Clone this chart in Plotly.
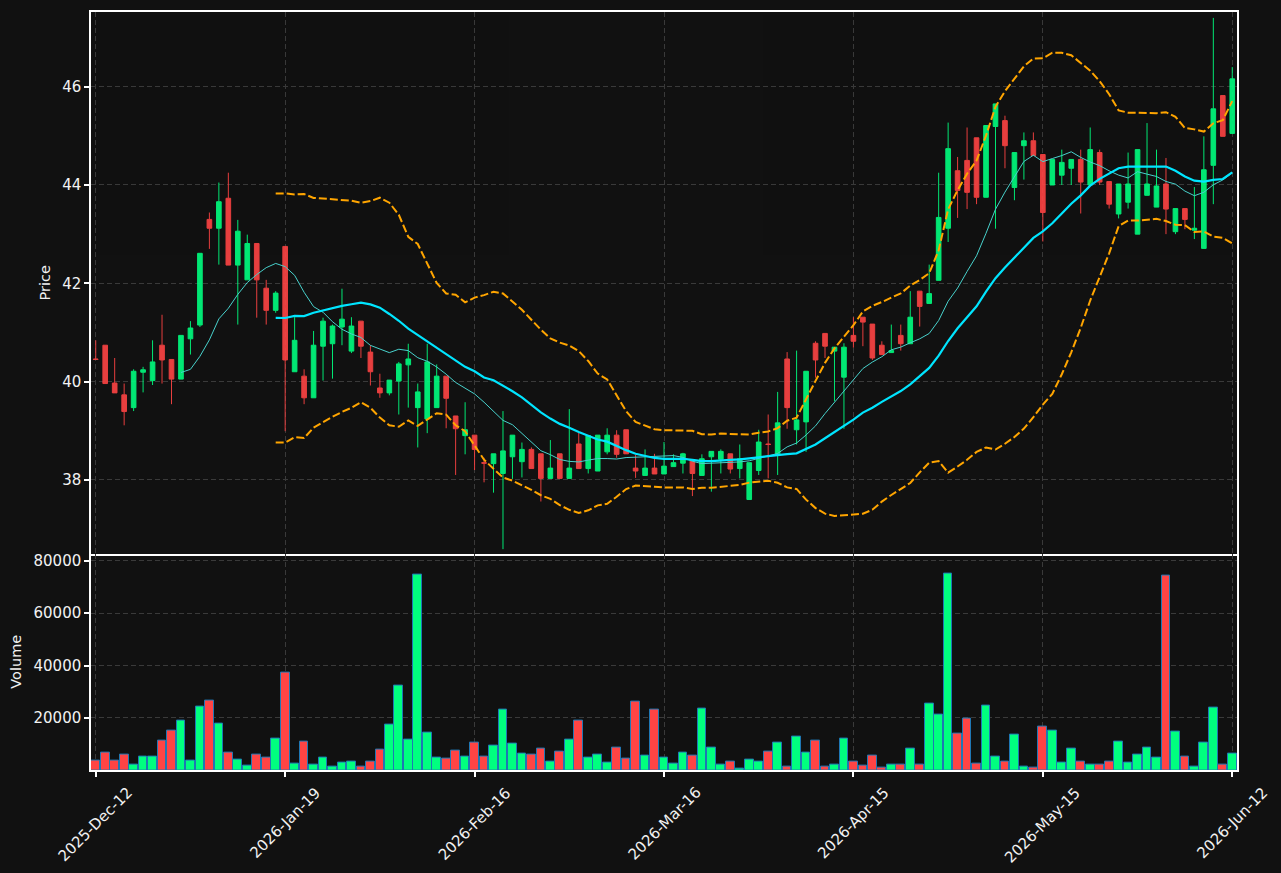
import plotly.graph_objects as go
import pandas as pd

tick_labels = ["2025-Dec-12", "2026-Jan-19", "2026-Feb-16", "2026-Mar-16",
               "2026-Apr-15", "2026-May-15", "2026-Jun-12"]
tick_index = [0, 20, 40, 60, 80, 100, 120]

opens = [40.46, 40.74, 39.97, 39.73, 39.47, 40.19, 40.02, 40.74, 40.45, 40.05,
         40.87, 41.15, 43.30, 43.12, 43.73, 42.37, 42.07, 42.81, 41.90, 41.45,
         42.75, 40.20, 40.11, 39.67, 40.72, 40.77, 41.11, 40.62, 41.23, 40.60,
         39.87, 39.77, 40.01, 40.34, 39.47, 39.24, 39.47, 40.11, 39.30, 38.90,
         38.91, 38.35, 38.33, 38.13, 38.47, 38.37, 38.62, 38.53, 38.03, 38.53,
         38.03, 38.73, 38.23, 38.18, 38.57, 38.91, 39.02, 38.24, 38.09, 38.24,
         38.12, 38.27, 38.34, 38.39, 38.09, 38.47, 38.42, 38.53, 38.23, 37.60,
         38.19, 38.73, 38.51, 40.46, 39.02, 39.18, 40.78, 40.98, 40.62, 40.09,
         40.94, 41.31, 41.17, 40.74, 40.59, 40.94, 40.77, 41.84, 41.59, 42.06,
         43.12, 44.29, 44.50, 44.96, 43.75, 45.19, 45.31, 43.95, 44.80, 44.90,
         44.62, 44.00, 44.20, 44.34, 44.52, 44.00, 44.66, 44.07, 43.41, 43.65,
         43.00, 43.79, 43.55, 44.02, 43.05, 43.52, 43.08, 42.71, 44.40, 45.82,
         45.05]
highs = [40.84, 40.74, 40.48, 39.96, 40.25, 40.30, 40.84, 41.36, 40.45, 40.94,
         41.23, 42.61, 43.44, 44.05, 44.25, 43.29, 42.99, 42.81, 42.07, 41.84,
         42.75, 41.31, 40.25, 41.03, 41.30, 41.16, 41.89, 41.31, 41.23, 40.74,
         40.16, 40.03, 40.40, 40.77, 39.96, 40.77, 40.35, 40.11, 39.30, 39.58,
         38.91, 38.45, 38.53, 39.40, 38.91, 38.76, 38.66, 38.53, 38.81, 38.53,
         39.44, 38.96, 38.90, 38.91, 39.05, 39.01, 39.02, 38.51, 38.62, 38.53,
         38.77, 38.52, 38.55, 38.39, 38.52, 38.58, 38.62, 38.53, 38.72, 38.35,
         39.02, 39.33, 39.79, 40.60, 40.63, 40.21, 40.82, 40.98, 40.70, 40.78,
         41.31, 41.31, 41.17, 40.82, 41.16, 41.16, 41.84, 41.84, 42.38, 44.25,
         45.27, 44.57, 45.17, 44.96, 45.21, 45.65, 45.41, 44.66, 45.07, 45.07,
         44.62, 44.52, 44.72, 44.52, 44.72, 45.17, 44.72, 44.07, 44.02, 44.66,
         44.72, 45.26, 44.72, 44.55, 43.52, 43.52, 43.96, 44.99, 47.40, 45.82,
         46.40]
lows = [40.44, 39.96, 39.77, 39.11, 39.40, 39.78, 39.93, 39.96, 39.54, 40.05,
        40.55, 41.11, 42.70, 42.38, 42.37, 41.16, 42.07, 41.30, 41.16, 41.40,
        38.99, 40.20, 39.54, 39.67, 40.02, 40.06, 40.74, 40.58, 40.48, 39.92,
        39.67, 39.72, 39.33, 39.47, 38.66, 38.95, 39.47, 39.05, 38.10, 38.52,
        38.20, 37.95, 37.74, 36.59, 38.02, 38.05, 38.23, 37.56, 38.03, 38.03,
        38.03, 38.23, 38.13, 38.18, 38.52, 38.45, 38.53, 38.04, 38.09, 38.12,
        38.12, 38.27, 38.13, 37.67, 38.09, 37.76, 38.13, 38.13, 38.03, 37.60,
        38.10, 38.03, 38.10, 39.04, 38.72, 38.57, 40.08, 40.48, 39.60, 39.04,
        40.69, 40.72, 40.44, 40.54, 40.59, 40.63, 40.77, 41.12, 41.59, 42.06,
        42.84, 43.33, 43.51, 43.61, 43.75, 43.11, 44.34, 43.69, 44.11, 44.60,
        42.85, 44.00, 44.00, 44.00, 43.42, 44.00, 44.00, 43.52, 43.32, 43.52,
        43.00, 43.79, 43.55, 43.00, 43.00, 43.10, 42.90, 42.70, 43.61, 44.99,
        45.05]
closes = [40.45, 39.96, 39.77, 39.39, 40.21, 40.24, 40.40, 40.44, 40.05, 40.94,
          41.09, 42.61, 43.12, 43.66, 42.37, 43.06, 42.81, 42.07, 41.45, 41.80,
          40.44, 40.84, 39.67, 40.74, 41.23, 41.13, 41.27, 41.13, 40.72, 40.20,
          39.77, 40.03, 40.36, 40.46, 39.79, 40.40, 40.11, 39.66, 39.04, 39.02,
          38.62, 38.34, 38.53, 38.59, 38.91, 38.62, 38.23, 38.03, 38.24, 38.03,
          38.24, 38.23, 38.90, 38.91, 38.91, 38.52, 38.53, 38.18, 38.24, 38.12,
          38.28, 38.35, 38.53, 38.13, 38.43, 38.58, 38.58, 38.22, 38.43, 38.35,
          38.77, 38.72, 39.16, 39.47, 39.22, 40.21, 40.44, 40.72, 40.70, 40.70,
          40.82, 41.21, 40.48, 40.55, 40.63, 40.77, 41.31, 41.53, 41.79, 43.34,
          44.74, 43.89, 43.85, 43.75, 45.21, 45.65, 44.80, 44.66, 44.90, 44.60,
          43.44, 44.52, 44.46, 44.52, 44.06, 44.72, 44.06, 43.61, 44.02, 44.02,
          44.72, 44.02, 43.98, 43.51, 43.52, 43.30, 43.12, 44.31, 45.55, 44.99,
          46.16]
volumes = [3680, 6710, 3680, 5960, 2160, 5200, 5200, 11270, 15070, 18860,
           3680, 24180, 26460, 17730, 6710, 4060, 1780, 5960, 4820, 12030,
           37470, 2540, 10890, 2160, 4820, 1400, 2920, 3300, 1400, 3300,
           7860, 17350, 32160, 11660, 74680, 14310, 4820, 4440, 7480, 5200,
           10520, 5200, 9380, 23050, 10140, 6340, 5960, 8240, 3300, 7100,
           11660, 18860, 4820, 5960, 2920, 8620, 4440, 26080, 5580, 23050,
           4820, 2540, 6710, 5580, 23430, 8620, 2160, 3300, 700, 4060,
           3300, 7100, 10520, 1400, 12800, 6710, 11270, 1400, 2160, 12030,
           3300, 1780, 5580, 1020, 2160, 2160, 8240, 2160, 25330, 21150,
           75060, 13930, 19630, 2540, 24570, 5200, 3300, 13560, 1400, 1020,
           16590, 15070, 2920, 8240, 3300, 2160, 2160, 3300, 10890, 2920,
           5960, 8620, 4820, 74300, 14690, 5200, 1400, 10520, 23810, 2160,
           6340]

GREEN = "#00ff7f"
RED = "#ff4444"
FONT = "DejaVu Sans"
TXT = "#f2f2f2"

x = list(range(len(closes)))
s = pd.Series(closes)
ma10 = s.rolling(10).mean()
ma20 = s.rolling(20).mean()
sd20 = s.rolling(20).std(ddof=0)
upper = ma20 + 2 * sd20
lower = ma20 - 2 * sd20

vol_colors = [GREEN if c >= o else RED for o, c in zip(opens, closes)]

fig = go.Figure()
fig.add_trace(go.Candlestick(
    x=x, open=opens, high=highs, low=lows, close=closes,
    increasing=dict(line=dict(color=GREEN, width=1), fillcolor=GREEN),
    decreasing=dict(line=dict(color=RED, width=1), fillcolor=RED),
    opacity=0.9, xaxis="x", yaxis="y", showlegend=False))
fig.add_trace(go.Scatter(x=x, y=ma10, mode="lines", line=dict(color="#48d1cc", width=1),
                         xaxis="x", yaxis="y", showlegend=False))
fig.add_trace(go.Scatter(x=x, y=ma20, mode="lines", line=dict(color="#00e5ff", width=2.2),
                         xaxis="x", yaxis="y", showlegend=False))
fig.add_trace(go.Scatter(x=x, y=upper, mode="lines",
                         line=dict(color="#ffa500", width=2, dash="8px,3px"),
                         xaxis="x", yaxis="y", showlegend=False))
fig.add_trace(go.Scatter(x=x, y=lower, mode="lines",
                         line=dict(color="#ffa500", width=2, dash="8px,3px"),
                         xaxis="x", yaxis="y", showlegend=False))
fig.add_trace(go.Bar(x=x, y=volumes, width=0.92,
                     marker=dict(color=vol_colors, line=dict(color="#1f77b4", width=1)),
                     xaxis="x2", yaxis="y2", showlegend=False))

grid = dict(showgrid=True, gridcolor="#3a3a3a", gridwidth=1, griddash="5px,3px")
line_common = dict(showline=True, linecolor="white", linewidth=1.5, zeroline=False,
                   tickfont=dict(family=FONT, size=15, color=TXT))
title_font = dict(family=FONT, size=14.5, color=TXT)
vsplit = 0.2855

fig.update_layout(
    width=1281, height=873, autosize=False,
    paper_bgcolor="#111111", plot_bgcolor="#111111",
    margin=dict(l=91, r=44, t=10, b=103),
    font=dict(family=FONT, size=15, color=TXT),
    showlegend=False, bargap=0,
    xaxis=dict(domain=[0, 1], anchor="y", range=[-0.5, 120.5], mirror=True,
               tickvals=tick_index, showticklabels=False, ticks="",
               rangeslider=dict(visible=False), **grid, **line_common),
    xaxis2=dict(domain=[0, 1], anchor="y2", range=[-0.5, 120.5], matches="x",
                mirror=False, tickvals=tick_index, showticklabels=False,
                ticks="outside", ticklen=5, tickwidth=1.5, tickcolor="white",
                **grid, **line_common),
    yaxis=dict(domain=[vsplit, 1], anchor="x", range=[36.5, 47.52], mirror=True,
               tickvals=[38, 40, 42, 44, 46], ticks="outside", ticklen=5,
               tickwidth=1.5, tickcolor="white",
               title=dict(text="Price", font=title_font, standoff=8),
               **grid, **line_common),
    yaxis2=dict(domain=[0, vsplit], anchor="x2", range=[150, 82700], mirror=True,
                tickvals=[20000, 40000, 60000, 80000],
                ticktext=["20000", "40000", "60000", "80000"],
                ticks="outside", ticklen=5, tickwidth=1.5, tickcolor="white",
                title=dict(text="Volume", font=title_font, standoff=8),
                **grid, **line_common),
)

for xi, lab in zip(tick_index, tick_labels):
    fig.add_annotation(x=xi, xref="x2", y=0, yref="paper", text=lab,
                       textangle=-45, showarrow=False, xanchor="center", yanchor="top",
                       yshift=-11, font=dict(family=FONT, size=15, color=TXT))

fig.write_html("out.html")
